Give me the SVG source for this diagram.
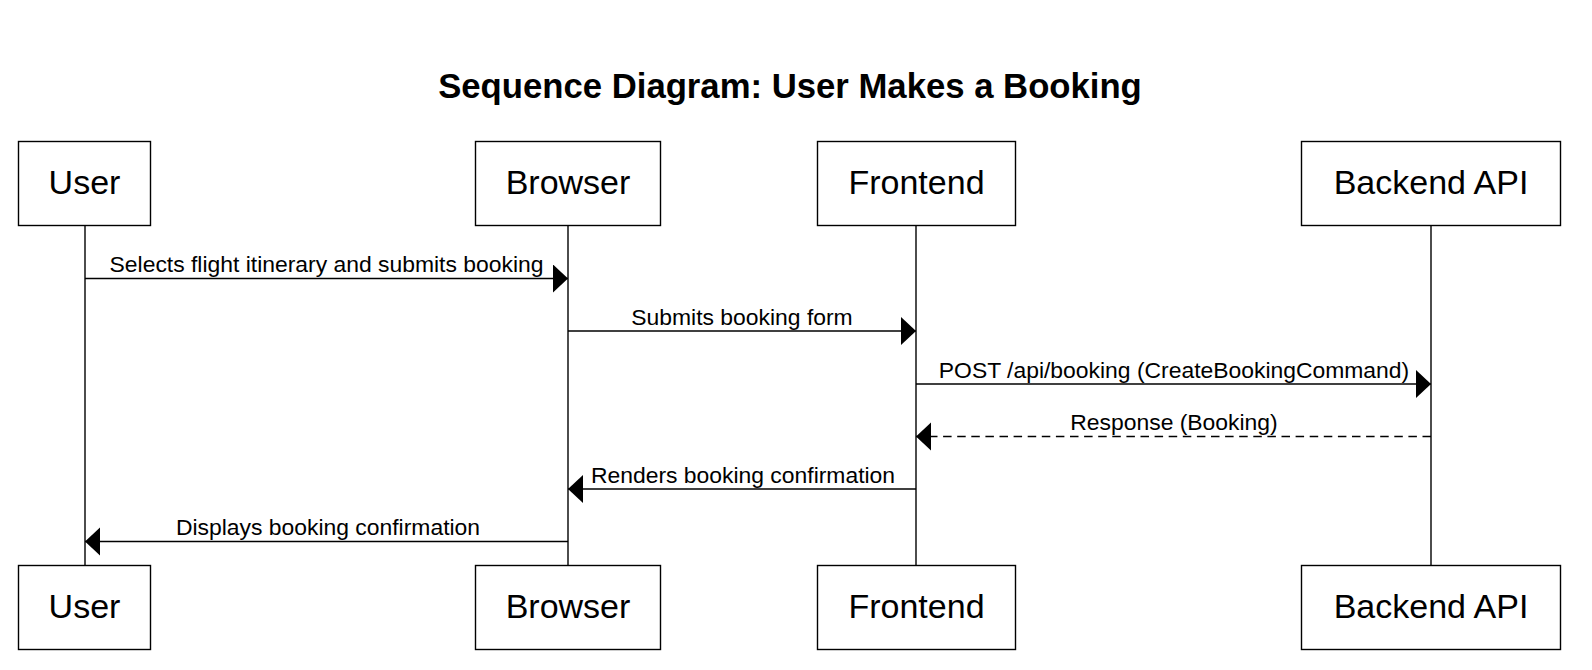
<svg xmlns="http://www.w3.org/2000/svg" width="1592" height="670" viewBox="0 0 1592 670">
<style>
.box{fill:#fff;stroke:#000;stroke-width:1.4}
.life{stroke:#000;stroke-width:1.4;fill:none}
.msg{stroke:#000;stroke-width:1.4;fill:none}
.dash{stroke-dasharray:8.5 5.6}
.lbl{font-family:"Liberation Sans",Arial,sans-serif;font-size:34px;fill:#000;text-anchor:middle}
.mt{font-family:"Liberation Sans",Arial,sans-serif;font-size:22.9px;fill:#000;text-anchor:middle}
.title{font-family:"Liberation Sans",Arial,sans-serif;font-size:34.7px;font-weight:bold;fill:#000;text-anchor:middle}
</style>
<defs>
<marker id="ah" markerUnits="userSpaceOnUse" markerWidth="16" markerHeight="30" refX="15" refY="14" orient="auto" viewBox="0 0 16 30">
<path d="M0,0 L15,14 L0,28 Z" fill="#000"/>
</marker>
</defs>
<rect width="1592" height="670" fill="#fff"/>
<text class="title" x="790" y="98">Sequence Diagram: User Makes a Booking</text>
<g id="lifelines">
<line class="life" x1="85" y1="225.5" x2="85" y2="565.5"/>
<line class="life" x1="568" y1="225.5" x2="568" y2="565.5"/>
<line class="life" x1="916" y1="225.5" x2="916" y2="565.5"/>
<line class="life" x1="1431" y1="225.5" x2="1431" y2="565.5"/>
</g>
<g id="user-top"><rect class="box" x="18.5" y="141.5" width="132" height="84"/><text class="lbl" x="84.5" y="193.5">User</text></g>
<g id="browser-top"><rect class="box" x="475.5" y="141.5" width="185" height="84"/><text class="lbl" x="568" y="193.5">Browser</text></g>
<g id="frontend-top"><rect class="box" x="817.5" y="141.5" width="198" height="84"/><text class="lbl" x="916.5" y="193.5">Frontend</text></g>
<g id="backend-top"><rect class="box" x="1301.5" y="141.5" width="259" height="84"/><text class="lbl" x="1431" y="193.5">Backend API</text></g>
<g id="user-bottom"><rect class="box" x="18.5" y="565.5" width="132" height="84"/><text class="lbl" x="84.5" y="618">User</text></g>
<g id="browser-bottom"><rect class="box" x="475.5" y="565.5" width="185" height="84"/><text class="lbl" x="568" y="618">Browser</text></g>
<g id="frontend-bottom"><rect class="box" x="817.5" y="565.5" width="198" height="84"/><text class="lbl" x="916.5" y="618">Frontend</text></g>
<g id="backend-bottom"><rect class="box" x="1301.5" y="565.5" width="259" height="84"/><text class="lbl" x="1431" y="618">Backend API</text></g>
<g id="connectors">
<line class="msg" x1="85" y1="278.5" x2="568" y2="278.5" marker-end="url(#ah)"/>
<text class="mt" x="326.5" y="272">Selects flight itinerary and submits booking</text>
<line class="msg" x1="568" y1="331" x2="916" y2="331" marker-end="url(#ah)"/>
<text class="mt" x="742" y="324.5">Submits booking form</text>
<line class="msg" x1="916" y1="384" x2="1431" y2="384" marker-end="url(#ah)"/>
<text class="mt" x="1174" y="377.5">POST /api/booking (CreateBookingCommand)</text>
<line class="msg dash" x1="1431" y1="436.5" x2="916" y2="436.5" marker-end="url(#ah)"/>
<text class="mt" x="1174" y="430">Response (Booking)</text>
<line class="msg" x1="916" y1="489" x2="568" y2="489" marker-end="url(#ah)"/>
<text class="mt" x="743" y="482.5">Renders booking confirmation</text>
<line class="msg" x1="568" y1="541.5" x2="85" y2="541.5" marker-end="url(#ah)"/>
<text class="mt" x="328" y="535">Displays booking confirmation</text>
</g>
</svg>
